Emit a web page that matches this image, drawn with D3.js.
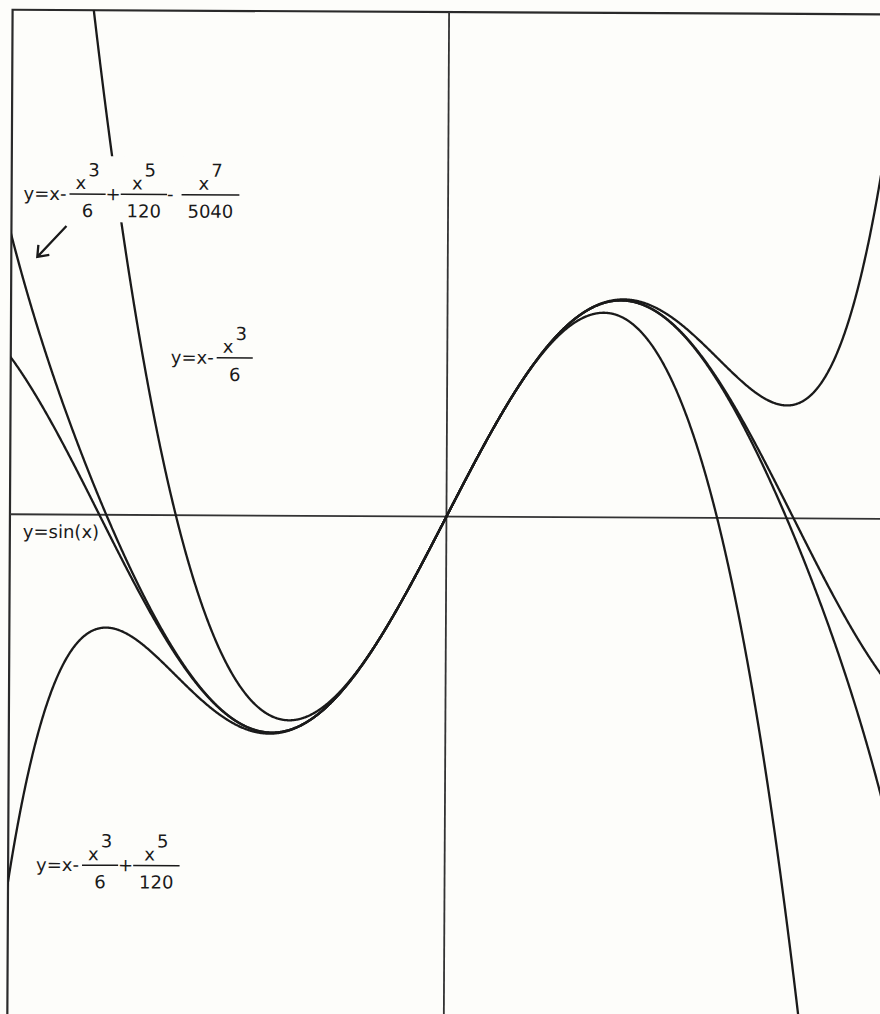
<!DOCTYPE html>
<html>
  <head>
    <title> Taylor polynomials of sin(x) </title>
    <script src="https://d3js.org/d3.v7.min.js"></script>
    <style>
      body { margin: 0; background: #fdfdfa; }
      text {
        font-family: "DejaVu Sans";
        font-size: 18px;
        fill: #1a1a1a;
      }
      .curve { fill: none; stroke: #1a1a1a; stroke-width: 2.3; }
      .axis { stroke: #333; stroke-width: 1.8; }
      .frame { fill: none; stroke: #2a2a2a; stroke-width: 2.2; }
      .bar { stroke: #1a1a1a; stroke-width: 1.5; }
    </style>
  </head>
  <body>
    <svg id="main" width="880" height="1014"></svg>
    <script>

      // visible window of the plot, in x and y units
      var xDomain = [-4, 4];
      var yDomain = [-2.4, 2.4];

      // terms after "x" as printed in the labels: sign, power of x, denominator
      var termSigns = [-1, 1, -1];
      var termPowers = [3, 5, 7];
      var termDenoms = [6, 120, 5040];

      // one entry per curve: how many of the terms above it uses (-1 = sin itself)
      var seriesNames = ['y=sin(x)', 'T3', 'T5', 'T7'];
      var seriesTerms = [-1, 1, 2, 3];

      var OX = 446.5, OY = 516.5;   // where the axes cross
      var KX = 110.5, KY = 217;     // pixels per unit
      var LEFT = 10, TOP = 12;

      var x = d3.scaleLinear()
        .domain(xDomain)
        .range([OX + xDomain[0] * KX, OX + xDomain[1] * KX]);
      var y = d3.scaleLinear()
        .domain(yDomain)
        .range([OY - yDomain[0] * KY, OY - yDomain[1] * KY]);

      function evalSeries(n, v)
      {
        if (n < 0) return Math.sin(v);
        var s = v;
        for (var i = 0; i < n; i++) {
          s += termSigns[i] * Math.pow(v, termPowers[i]) / termDenoms[i];
        }
        return s;
      }

      var svg = d3.select('#main');
      // the page was scanned a little crooked
      var g = svg.append('g').attr('transform', 'rotate(0.3,440,507)');

      g.append('clipPath').attr('id', 'plot')
        .append('rect')
        .attr('x', LEFT).attr('y', TOP)
        .attr('width', 920).attr('height', 1040);

      g.append('rect').attr('class', 'frame')
        .attr('x', LEFT).attr('y', TOP)
        .attr('width', 920).attr('height', 1040);

      // axes
      g.append('line').attr('class', 'axis')
        .attr('x1', x(0)).attr('x2', x(0))
        .attr('y1', TOP).attr('y2', 1050);
      g.append('line').attr('class', 'axis')
        .attr('x1', LEFT).attr('x2', 920)
        .attr('y1', y(0)).attr('y2', y(0));

      var xs = d3.range(xDomain[0] - 0.1, xDomain[1] + 0.1, 0.005);
      var line = d3.line()
        .x(function(d) { return x(d[0]); })
        .y(function(d) { return y(d[1]); });

      var curves = g.append('g').attr('clip-path', 'url(#plot)');
      for (var k = 0; k < seriesTerms.length; k++) {
        var pts = xs.map(function(v) {
          var val = evalSeries(seriesTerms[k], v);
          return [v, Math.max(-8, Math.min(8, val))];
        });
        curves.append('path')
          .attr('class', 'curve')
          .attr('d', line(pts));
      }

      // label "y=x- x^3/6 + ..." with n fraction terms
      function drawLabel(x0, barY, n, boxed)
      {
        var lg = g.append('g');
        var box = boxed ? lg.append('rect').attr('fill', '#fdfdfa') : null;
        var cur = x0;
        var t = lg.append('text').attr('x', cur).attr('y', barY + 6).text('y=x-');
        cur += t.node().getComputedTextLength() + 3;
        for (var i = 0; i < n; i++) {
          if (i > 0) {
            var op = lg.append('text').attr('x', cur).attr('y', barY + 6)
              .text(termSigns[i] > 0 ? '+' : '-');
            cur += op.node().getComputedTextLength() + (termSigns[i] > 0 ? 0 : 8);
          }
          var num = lg.append('text').attr('y', barY - 5);
          num.append('tspan').text('x');
          num.append('tspan').attr('dx', 2).attr('dy', -13).text(termPowers[i]);
          var nw = num.node().getComputedTextLength() + 2;
          var den = lg.append('text')
            .attr('text-anchor', 'middle')
            .attr('y', barY + 23)
            .text(termDenoms[i]);
          var dw = den.node().getComputedTextLength();
          var w = Math.max(nw, dw) + 12;
          num.attr('x', cur + (w - nw) / 2);
          den.attr('x', cur + w / 2);
          lg.append('line').attr('class', 'bar')
            .attr('x1', cur).attr('x2', cur + w)
            .attr('y1', barY).attr('y2', barY);
          cur += w;
        }
        if (box) {
          box.attr('x', x0 - 4).attr('y', barY - 38)
            .attr('width', cur - x0 + 8).attr('height', 66);
        }
      }

      drawLabel(22, 196, 3, true);
      drawLabel(170, 359, 1, false);
      drawLabel(38, 867, 2, false);

      g.append('text').attr('x', 23).attr('y', 540).text(seriesNames[0]);

      // arrow pointing at the 7th degree curve
      g.append('path')
        .attr('class', 'curve')
        .attr('stroke-width', 1.6)
        .attr('d', 'M65,228 L36,259 M37,247 L36,259 L48,257');

    </script>
  </body>
</html>
